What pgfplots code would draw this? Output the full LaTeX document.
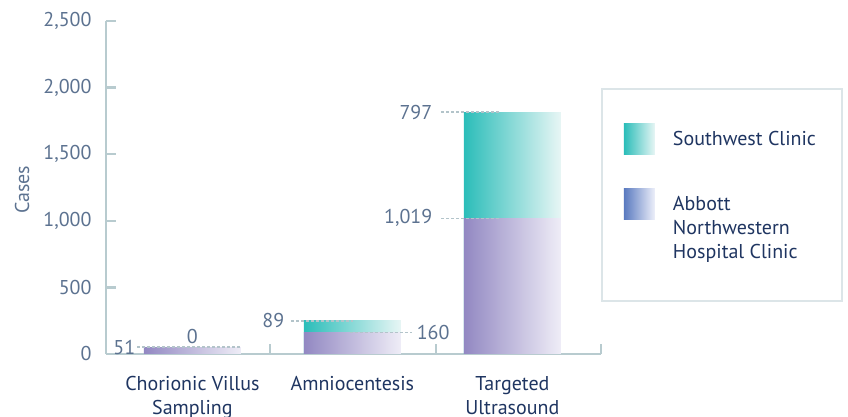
\documentclass[border=0pt]{standalone}
\usepackage{fontspec}
\setmainfont{PT Sans}
\usepackage{pgfplots}
\pgfplotsset{compat=1.18}
\definecolor{tickSlate}{HTML}{5C7290}
\definecolor{labelNavy}{HTML}{1F3561}
\definecolor{axisGray}{HTML}{B8CBCF}
\definecolor{dashGray}{HTML}{B3C4CA}
\definecolor{legBorder}{HTML}{DCE5E8}
\definecolor{purpL}{HTML}{9288C2}
\definecolor{purpR}{HTML}{EFEDF7}
\definecolor{tealL}{HTML}{2BBDB9}
\definecolor{tealR}{HTML}{E8F6F5}
\definecolor{legBlueL}{HTML}{5A7AC0}
\definecolor{legBlueR}{HTML}{EEF0FA}

% one plot per bar so that each bar gets its own left-to-right gradient
\pgfplotsset{
  purpbar/.style={draw=none, left color=purpL, right color=purpR},
  tealbar/.style={draw=none, left color=tealL, right color=tealR},
  leader/.style={forget plot, sharp plot, draw=dashGray, line width=0.75pt, dash pattern=on 1.5pt off 1pt},
}

\begin{document}
\begin{tikzpicture}
\begin{axis}[
  at={(0,0)}, anchor=south west,
  scale only axis, width=247.5pt, height=166.5pt,
  ybar, bar shift=0pt, bar width=48.5pt,
  xmin=-0.54, xmax=2.554, ymin=0, ymax=2500,
  axis x line*=bottom, axis y line*=left,
  axis line style={draw=axisGray, line width=1.2pt, -},
  tick align=inside, major tick length=5pt,
  tick style={draw=axisGray, line width=1.2pt},
  ytick={0,500,...,2500},
  yticklabel style={text=tickSlate, xshift=-3.7pt},
  /pgf/number format/assume math mode=true,
  /pgf/number format/1000 sep={,},
  scaled y ticks=false,
  xtick={0.485,1.5225,2.554}, xticklabels={},
  extra x ticks={0,1,2},
  extra x tick labels={{Chorionic Villus\\Sampling},{Amniocentesis},{Targeted\\Ultrasound}},
  extra x tick style={major tick length=0pt, xticklabel style={align=center, text=labelNavy, yshift=-7.5pt}},
  ylabel={Cases},
  ylabel style={text=tickSlate, at={(axis description cs:-0.1697,0.4925)}, anchor=center},
  clip=false,
  legend style={at={(1,0.799)}, anchor=north west, draw=legBorder, line width=1pt,
    inner xsep=11pt, inner ysep=17.5pt, row sep=17pt, column sep=7pt,
    text=labelNavy, cells={anchor=base west, inner sep=0pt}},
]
% Southwest Clinic, drawn to the stacked top (Abbott + Southwest: 160+89, 1019+797; CVS adds 0)
\addplot[tealbar,
  legend image code/.code={\fill[left color=tealL, right color=tealR] (0pt,-4.5pt) rectangle (15.5pt,11pt);}]
  coordinates {(1,249)};
\addlegendentry{Southwest Clinic}
\addplot[tealbar, forget plot] coordinates {(2,1816)};

% Abbott Northwestern Hospital Clinic
\addplot[purpbar,
  legend image code/.code={\fill[left color=legBlueL, right color=legBlueR] (0pt,19.5pt) rectangle (15.5pt,35pt);}]
  coordinates {(0,51)};
\addlegendentry[align=left]{Abbott\\Northwestern\\Hospital Clinic}
\addplot[purpbar, forget plot] coordinates {(1,160)};
\addplot[purpbar, forget plot] coordinates {(2,1019)};

% dashed value leaders with their labels
\addplot[leader] coordinates {(-0.346,51) (0.30,51)}
  node[pos=0, anchor=east, text=tickSlate, inner sep=0.5pt] {51}
  node[pos=0.535, anchor=south, text=tickSlate, inner sep=1.5pt] {0};
\addplot[leader] coordinates {(0.616,249) (1.004,249)}
  node[pos=0, anchor=east, text=tickSlate, inner sep=3pt] {89};
\addplot[leader] coordinates {(0.985,160) (1.373,160)}
  node[pos=1, anchor=west, text=tickSlate, inner sep=2pt] {160};
\addplot[leader] coordinates {(1.554,1816) (1.9225,1816)}
  node[pos=0, anchor=east, text=tickSlate, inner sep=4pt] {797};
\addplot[leader] coordinates {(1.554,1019) (1.9225,1019)}
  node[pos=0, anchor=east, text=tickSlate, inner sep=4pt] {1,019};
\end{axis}
\pgfresetboundingbox
\path[use as bounding box] (-53pt,-31.5pt) rectangle (371pt,177pt);
\end{tikzpicture}
\end{document}
